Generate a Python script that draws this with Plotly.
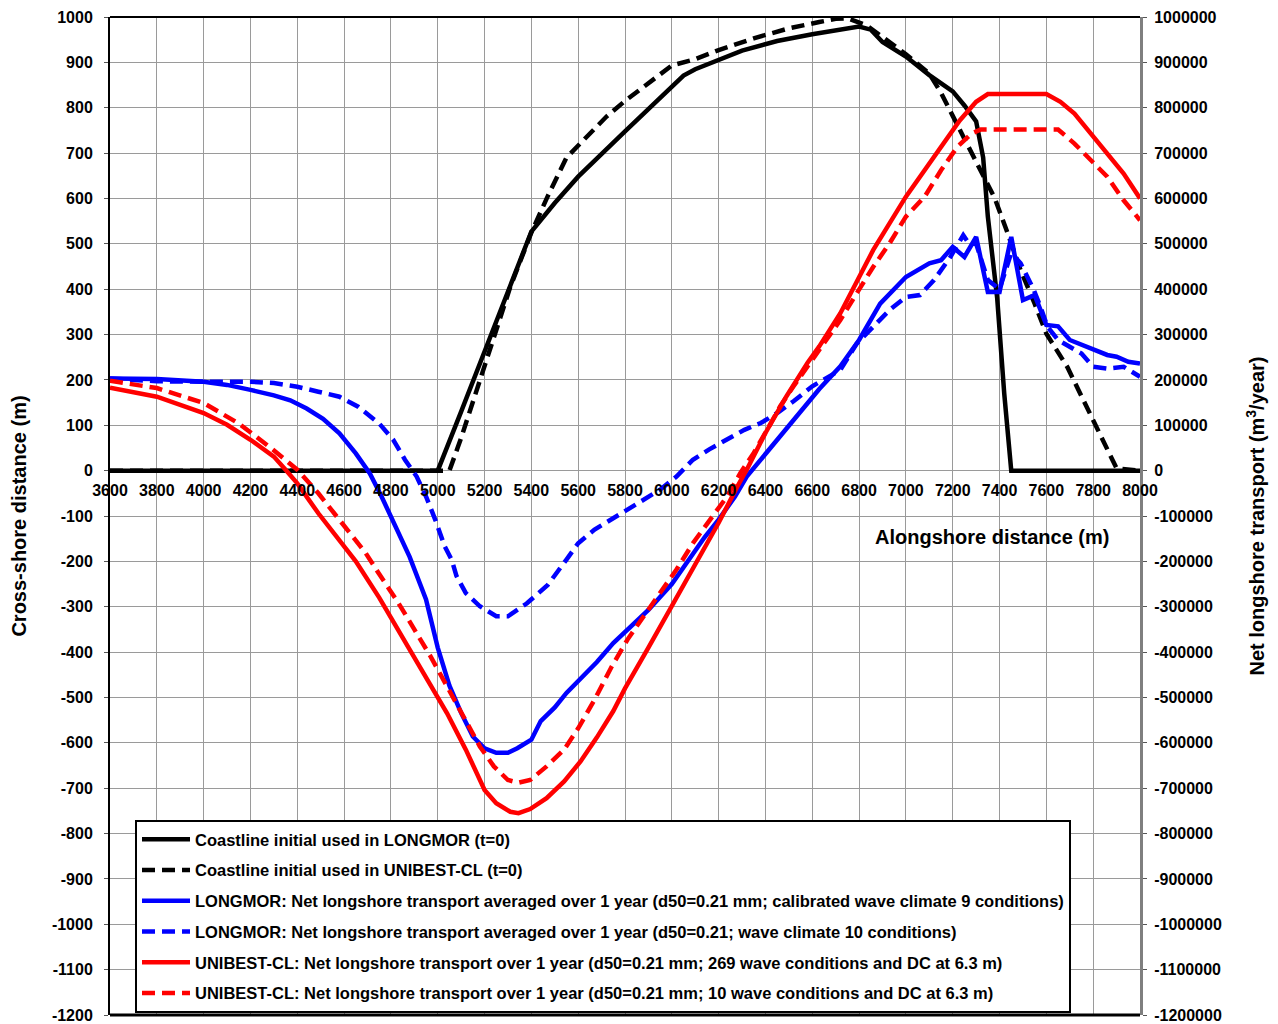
import plotly.graph_objects as go

# ---------------- data ----------------
# Coastline initial used in LONGMOR (t=0)  [cross-shore distance, m]
coast_longmor_x = [3600, 5000, 5100, 5200, 5300, 5400, 5500, 5600, 5800, 6000, 6050, 6100, 6200, 6300,
                   6450, 6600, 6800, 6850, 6900, 7000, 7100, 7200, 7250, 7300, 7330, 7350, 7390, 7420,
                   7450, 8000]
coast_longmor_y = [0, 0, 130, 262, 395, 527, 590, 648, 748, 845, 871, 885, 906, 926,
                   947, 962, 979, 972, 945, 913, 872, 836, 805, 770, 690, 560, 380, 170,
                   0, 0]

# Coastline initial used in UNIBEST-CL (t=0)
coast_unibest_x = [3600, 5050, 5100, 5180, 5250, 5310, 5400, 5430, 5470, 5550, 5640, 5720, 5800, 5870,
                   6000, 6100, 6200, 6350, 6500, 6630, 6700, 6750, 6830, 6900, 7000, 7100, 7150, 7200,
                   7260, 7320, 7380, 7430, 7490, 7550, 7600, 7690, 7780, 7850, 7900, 8000]
coast_unibest_y = [0, 0, 72, 200, 310, 405, 525, 560, 605, 690, 738, 780, 815, 843,
                   893, 907, 927, 953, 975, 989, 996, 997, 982, 956, 918, 875, 833, 782,
                   722, 662, 600, 530, 442, 368, 302, 228, 133, 60, 5, 0]

# LONGMOR: net longshore transport, calibrated wave climate 9 conditions [m3/year]
lm9_x = [3600, 3800, 4000, 4100, 4200, 4300, 4370, 4440, 4510, 4580, 4650, 4710, 4760, 4820, 4880,
         4950, 5000, 5050, 5100, 5150, 5200, 5250, 5300, 5340, 5400, 5440, 5500, 5550, 5600, 5680,
         5750, 5810, 5870, 5900, 6000, 6070, 6140, 6200, 6270, 6320, 6380, 6450, 6520, 6630, 6720,
         6800, 6890, 7000, 7100, 7150, 7200, 7250, 7300, 7350, 7400, 7450, 7500, 7550, 7600, 7650,
         7700, 7790, 7860, 7900, 7950, 8000]
lm9_q = [203000, 202000, 196000, 189000, 178000, 166000, 155000, 137000, 114000, 82000, 38000, -6000,
         -57000, -123000, -190000, -284000, -390000, -474000, -534000, -586000, -612000, -622000,
         -622000, -612000, -593000, -552000, -522000, -490000, -465000, -422000, -380000, -351000,
         -320000, -307000, -250000, -198000, -147000, -108000, -57000, -13000, 24000, 68000, 112000,
         180000, 230000, 288000, 368000, 427000, 457000, 464000, 493000, 471000, 515000, 394000,
         394000, 515000, 376000, 387000, 321000, 318000, 288000, 270000, 255000, 251000, 240000, 236000]

# LONGMOR: net longshore transport, wave climate 10 conditions [m3/year]
lm10_x = [3600, 3800, 4000, 4200, 4300, 4400, 4490, 4580, 4660, 4750, 4810, 4860, 4910, 4950, 4990,
          5030, 5060, 5080, 5120, 5180, 5250, 5300, 5380, 5470, 5550, 5600, 5670, 5740, 5810, 5880,
          5950, 6020, 6090, 6160, 6240, 6310, 6380, 6450, 6520, 6600, 6720, 6790, 6860, 6930, 7000,
          7060, 7120, 7190, 7245, 7270, 7300, 7350, 7400, 7450, 7490, 7545, 7575, 7605, 7650, 7750,
          7800, 7860, 7930, 8000]
lm10_q = [203000, 197000, 196000, 196000, 193000, 185000, 174000, 163000, 141000, 104000, 68000,
          24000, -13000, -57000, -109000, -167000, -197000, -232000, -270000, -299000, -321000,
          -321000, -293000, -252000, -196000, -160000, -130000, -108000, -86000, -64000, -42000,
          -13000, 24000, 47000, 69000, 90000, 105000, 127000, 153000, 186000, 222000, 280000, 317000,
          354000, 383000, 387000, 420000, 471000, 519000, 500000, 500000, 420000, 400000, 480000,
          457000, 400000, 361000, 317000, 288000, 258000, 229000, 225000, 229000, 207000]

# UNIBEST-CL: 269 wave conditions and DC at 6.3 m [m3/year]
ub269_x = [3600, 3800, 4000, 4100, 4200, 4300, 4350, 4400, 4490, 4580, 4650, 4750, 4900, 5040, 5120,
           5200, 5250, 5310, 5345, 5395, 5465, 5540, 5610, 5680, 5750, 5800, 5900, 6000, 6100, 6200,
           6280, 6320, 6400, 6490, 6580, 6630, 6720, 6860, 7000, 7150, 7230, 7300, 7350, 7600, 7660,
           7720, 7790, 7860, 7930, 8000]
ub269_q = [183000, 163000, 127000, 101000, 68000, 31000, 2000, -28000, -94000, -153000, -200000,
           -280000, -410000, -535000, -615000, -704000, -733000, -752000, -755000, -746000, -722000,
           -685000, -641000, -588000, -530000, -480000, -390000, -299000, -204000, -115000, -35000,
           2000, 83000, 164000, 238000, 274000, 347000, 486000, 604000, 714000, 772000, 813000,
           830000, 830000, 813000, 787000, 743000, 699000, 655000, 600000]

# UNIBEST-CL: 10 wave conditions and DC at 6.3 m [m3/year]
ub10_x = [3600, 3800, 4000, 4150, 4290, 4400, 4490, 4580, 4690, 4750, 4830, 4900, 4970, 5040, 5110,
          5180, 5240, 5300, 5345, 5395, 5465, 5540, 5600, 5670, 5740, 5810, 5880, 5950, 6020, 6090,
          6165, 6236, 6293, 6350, 6407, 6463, 6520, 6590, 6720, 6790, 6860, 6930, 7000, 7080, 7150,
          7220, 7280, 7320, 7650, 7720, 7790, 7860, 7930, 8000]
ub10_q = [198000, 182000, 149000, 104000, 49000, 2000, -50000, -109000, -180000, -228000, -290000,
          -350000, -410000, -476000, -542000, -608000, -652000, -682000, -688000, -682000, -652000,
          -615000, -568000, -505000, -435000, -373000, -321000, -270000, -218000, -160000, -108000,
          -57000, -5000, 39000, 90000, 142000, 186000, 238000, 332000, 391000, 449000, 501000, 560000,
          604000, 662000, 714000, 743000, 752000, 752000, 721000, 684000, 648000, 596000, 552000]

series_names = [
    "Coastline initial used in LONGMOR (t=0)",
    "Coastline initial used in UNIBEST-CL (t=0)",
    "LONGMOR: Net longshore transport averaged over 1 year (d50=0.21 mm; calibrated wave climate 9 conditions)",
    "LONGMOR: Net longshore transport averaged over 1 year (d50=0.21; wave climate 10 conditions)",
    "UNIBEST-CL: Net longshore transport over 1 year (d50=0.21 mm; 269 wave conditions and DC at 6.3 m)",
    "UNIBEST-CL: Net longshore transport over 1 year (d50=0.21 mm; 10 wave conditions and DC at 6.3 m)",
]

left_ticks = list(range(-1200, 1001, 100))
left_tick_text = [str(v) for v in left_ticks]
right_ticks = list(range(-1200000, 1000001, 100000))
right_tick_text = [str(v) for v in right_ticks]
x_ticks = list(range(3600, 8001, 200))
x_tick_text = [str(v) for v in x_ticks]

left_range = [-1200, 1000]
right_range = [-1200000, 1000000]
x_range = [3600, 8000]

# ---------------- figure ----------------
FONT = "Liberation Sans, Arial, sans-serif"
DASH = "13px,7px"
LW = 4.5

fig = go.Figure()
specs = [
    (coast_longmor_x, coast_longmor_y, "y", "#000000", "solid", LW),
    (coast_unibest_x, coast_unibest_y, "y", "#000000", DASH, LW),
    (lm9_x, lm9_q, "y2", "#0000FF", "solid", LW),
    (lm10_x, lm10_q, "y2", "#0000FF", DASH, LW),
    (ub269_x, ub269_q, "y2", "#FF0000", "solid", LW),
    (ub10_x, ub10_q, "y2", "#FF0000", DASH, LW),
]
for i, ((xs, ys, yax, col, dash, w), name) in enumerate(zip(specs, series_names)):
    fig.add_trace(go.Scatter(
        x=xs, y=ys, yaxis=yax, mode="lines", name=name,
        legendgroup=f"g{i}",
        line=dict(color=col, dash=dash, width=w),
    ))

zero_pos = (0 - left_range[0]) / (left_range[1] - left_range[0])

# page body has an 8 px margin: figure is offset by (8, 8) in the window
W, H = 1270, 1016
L, T = 102, 9
PW, PH = 1030, 998

fig.update_layout(
    width=W, height=H,
    margin=dict(l=L, r=W - L - PW, t=T, b=H - T - PH, autoexpand=False),
    paper_bgcolor="white", plot_bgcolor="white",
    font=dict(family=FONT, size=16, color="black", weight="bold"),
    showlegend=True,
    legend=dict(
        x=(135 - 110) / PW, y=(1015 - 820) / PH, xanchor="left", yanchor="top",
        bgcolor="white", bordercolor="black", borderwidth=2,
        font=dict(family=FONT, size=16.5, color="black", weight="bold"),
        tracegroupgap=6.3, itemwidth=48,
    ),
    xaxis=dict(
        range=x_range, tickvals=x_ticks, ticktext=x_tick_text,
        anchor="free", position=zero_pos,
        showgrid=True, gridcolor="#9a9a9a", gridwidth=1, zeroline=False,
        showline=False, ticks="outside", ticklen=5, tickcolor="rgba(0,0,0,0)",
        tickfont=dict(size=16), automargin=False,
    ),
    yaxis=dict(
        range=left_range, tickvals=left_ticks, ticktext=left_tick_text,
        showgrid=True, gridcolor="#9a9a9a", gridwidth=1, zeroline=False,
        showline=True, linecolor="black", linewidth=2,
        ticks="outside", ticklen=4, tickcolor="#555555", ticklabelstandoff=8,
        title=dict(text="Cross-shore distance (m)", font=dict(size=20), standoff=21),
        automargin=False,
    ),
    yaxis2=dict(
        range=right_range, tickvals=right_ticks, ticktext=right_tick_text,
        overlaying="y", side="right",
        showgrid=False, zeroline=False,
        showline=True, linecolor="#7f7f7f", linewidth=3,
        ticks="outside", ticklen=4, tickcolor="#555555", ticklabelstandoff=4,
        title=dict(text="Net longshore transport (m<sup>3</sup>/year)", font=dict(size=20), standoff=30),
        automargin=False,
    ),
    shapes=[
        dict(type="line", xref="paper", yref="paper", x0=0, x1=1, y0=1, y1=1,
             line=dict(color="black", width=2)),
        dict(type="line", xref="paper", yref="paper", x0=0, x1=1, y0=0, y1=0,
             line=dict(color="black", width=3)),
    ],
    annotations=[
        dict(text="Alongshore distance (m)", xref="paper", yref="paper",
             x=(992 - 110) / PW, y=(1015 - 537) / PH, showarrow=False,
             xanchor="center", yanchor="middle", font=dict(size=20)),
    ],
)

fig.write_html("out.html")
